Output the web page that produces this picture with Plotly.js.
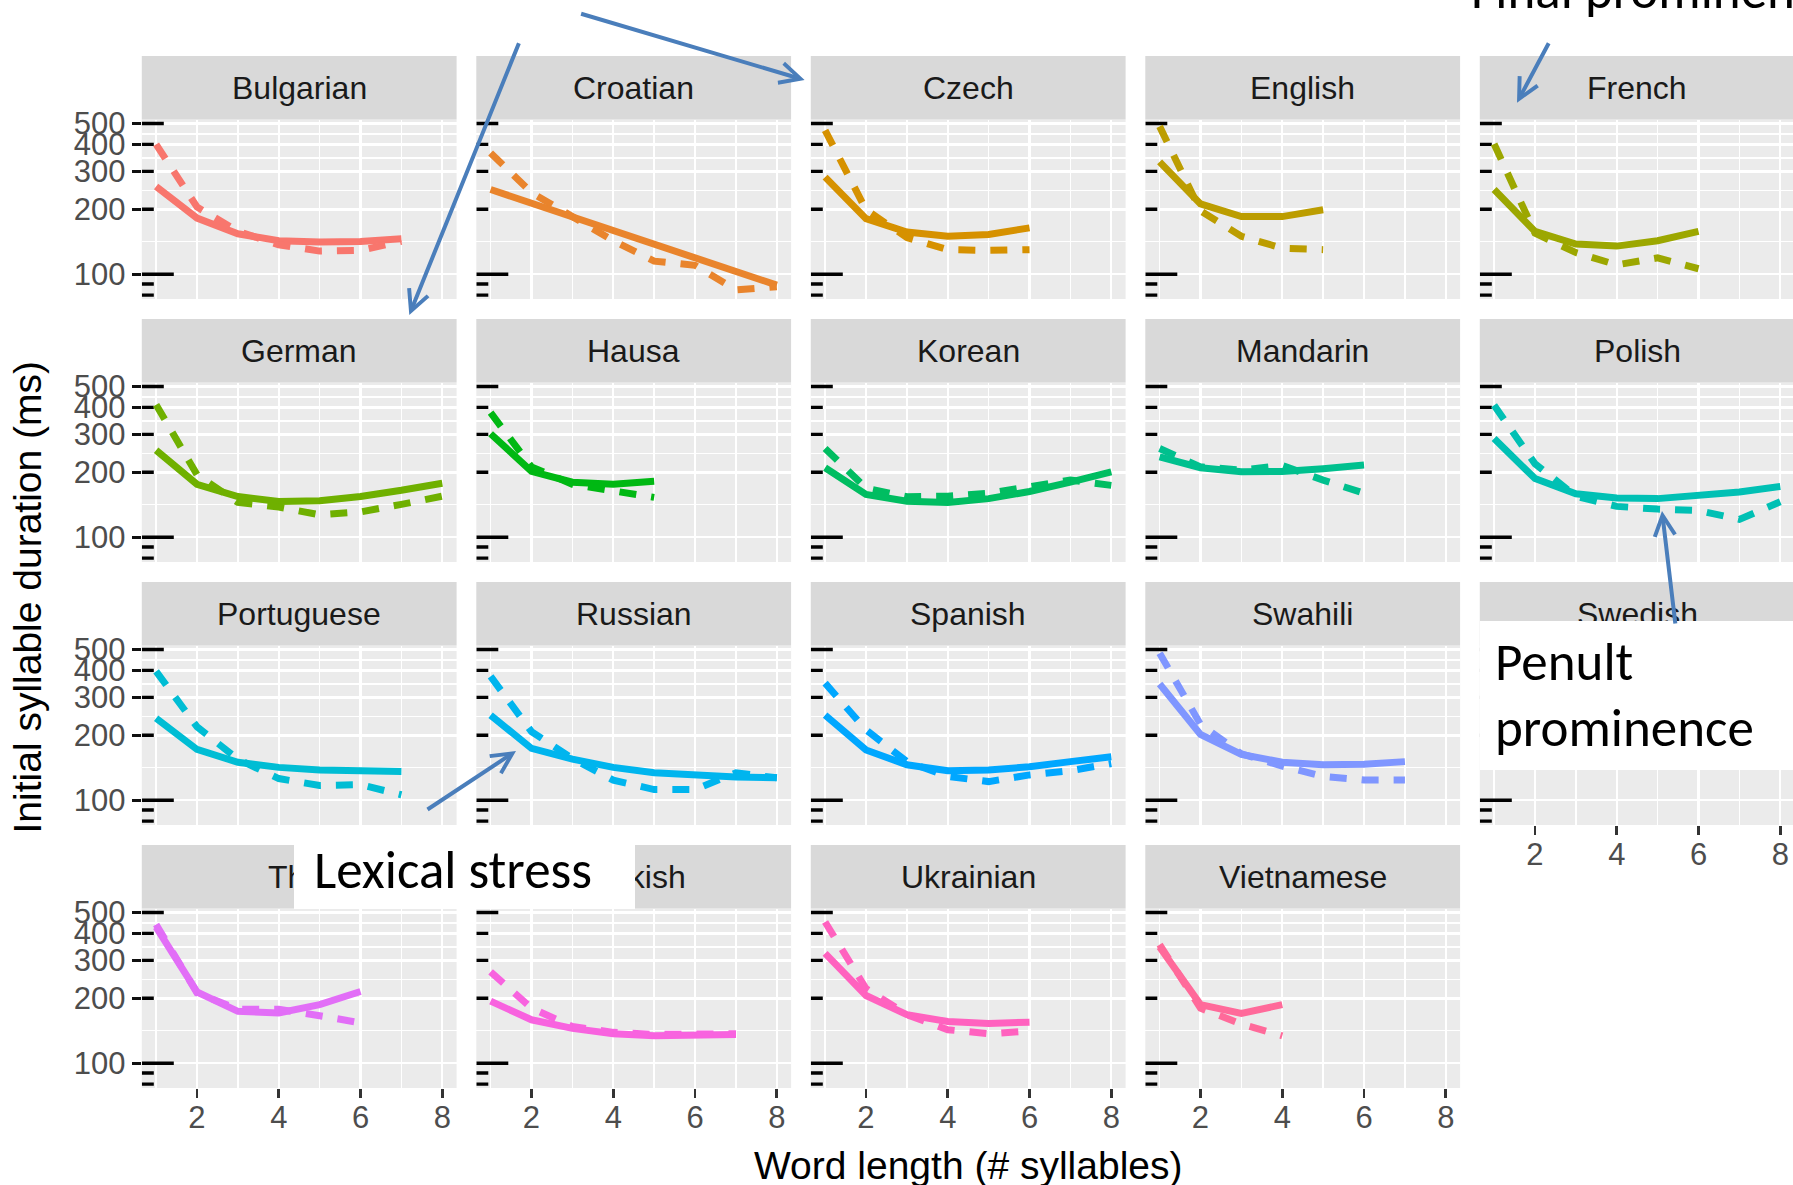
<!DOCTYPE html>
<html>
<head>
<meta charset="utf-8">
<script src="https://cdn.plot.ly/plotly-3.0.1.min.js"></script>
<style>
html,body{margin:0;padding:0;background:#ffffff;}
#chart{width:1793px;height:1185px;}
</style>
</head>
<body>
<div id="chart"></div>
<script>
// ---------------- data ----------------
const languages = ['Bulgarian','Croatian','Czech','English','French',
                   'German','Hausa','Korean','Mandarin','Polish',
                   'Portuguese','Russian','Spanish','Swahili','Swedish',
                   'Thai','Turkish','Ukrainian','Vietnamese'];
const wordLength = [1,2,3,4,5,6,7,8];

const bulgarianSolid   = [255,182,154,143,141,142,146];
const bulgarianDashed  = [400,205,158,137,128,129,142];
const croatianSolid    = [247,214,185,160,138,119,103,89];
const croatianDashed   = [365,239,185,143,115,110,84.5,87.5];
const czechSolid       = [282,181,157,150,153,164];
const czechDashed      = [465,199,148,130,129,130];
const englishSolid     = [332,212,185,185,199];
const englishDashed    = [485,197,150,132,130];
const frenchSolid      = [247,158,138,135,143,158];
const frenchDashed     = [402,155,126,110.5,119,106];
const germanSolid      = [253,176,154.5,146.5,147.5,154.5,165,178];
const germanDashed     = [412,195,145,138,127,131,142,155];
const hausaSolid       = [302,202,180,176,182];
const hausaDashed      = [378,212,176,163,153];
const koreanSolid      = [210,158,147,145,151,163,180,201];
const koreanDashed     = [258,169,154,155,160,170,184,174];
const mandarinSolid    = [236,210,201,202,208,216];
const mandarinDashed   = [258,212,205,215,184,160];
const polishSolid      = [287,187,159,152,151,155,162,172];
const polishDashed     = [409,219,155,139,135,133,121,146];
const portugueseSolid  = [240,172,150,142,138,136,136];
const portugueseDashed = [396,219,155,126,117,118,106];
const russianSolid     = [248,174,155,142,134,130,128,127];
const russianDashed    = [375,208,156,124,112,112,134,127];
const spanishSolid     = [248,171,146,137,138,143,151,159];
const spanishDashed    = [349,212,151,129,122,131,137,148];
const swahiliSolid     = [346,202,163,150,146,147,151];
const swahiliDashed    = [481,225,164,144,129,124,124];
const swedishSolid     = [];
const swedishDashed    = [];
const thaiSolid        = [428,214,174,171,187,215];
const thaiDashed       = [440,212,178,178,166,154];
const turkishSolid     = [194,159,145,137,134,134,136];
const turkishDashed    = [265,180,148,139,136,136,137];
const ukrainianSolid   = [323,206,168,156,153,155];
const ukrainianDashed  = [452,222,168,143,137,141];
const vietnameseSolid  = [346,187,170,187];
const vietnameseDashed = [355,180,152,134];

const yTickVals = [100,200,300,400,500];
const yTickText = ['100','200','300','400','500'];
const xTickVals = [2,4,6,8];
const xTickText = ['2','4','6','8'];
const xMinorVals = [1,3,5,7];
const logTickVals = [80,90,100,200,300,400,500];

const xTitle = 'Word length (# syllables)';
const yTitle = 'Initial syllable duration (ms)';
const noteLexical = 'Lexical stress';
const notePenult1 = 'Penult';
const notePenult2 = 'prominence';
const noteFinal = 'Final prominence';

// lookup built from the named arrays
const solidSeries = [bulgarianSolid,croatianSolid,czechSolid,englishSolid,frenchSolid,
  germanSolid,hausaSolid,koreanSolid,mandarinSolid,polishSolid,
  portugueseSolid,russianSolid,spanishSolid,swahiliSolid,swedishSolid,
  thaiSolid,turkishSolid,ukrainianSolid,vietnameseSolid];
const dashedSeries = [bulgarianDashed,croatianDashed,czechDashed,englishDashed,frenchDashed,
  germanDashed,hausaDashed,koreanDashed,mandarinDashed,polishDashed,
  portugueseDashed,russianDashed,spanishDashed,swahiliDashed,swedishDashed,
  thaiDashed,turkishDashed,ukrainianDashed,vietnameseDashed];

// ---------------- styling / geometry ----------------
const W = 1793, H = 1185;
const colLeft0 = 141.8, colStep = 334.5, panelW = 314.8;
const rowTop0 = 56, rowStep = 263, stripH = 63.5, panelH = 179.5;
const xLo = 0.65, xHi = 8.35;
const yLo = 1.885, yHi = 2.7176;
const FONT = 'Liberation Sans, Arial, Helvetica, sans-serif';
const NOTEFONT = 'Carlito, Lato, Open Sans, sans-serif';
const BLUE = '#4A7EBB';

function hclHex(h, c, l) {
  const rad = h * Math.PI / 180;
  const U = c * Math.cos(rad), V = c * Math.sin(rad);
  const Xn = 95.047, Yn = 100, Zn = 108.883;
  const Y = l > 7.999592 ? Yn * Math.pow((l + 16) / 116, 3) : Yn * l / 903.3;
  const den = Xn + 15 * Yn + 3 * Zn;
  const un = 4 * Xn / den, vn = 9 * Yn / den;
  const u = U / (13 * l) + un, v = V / (13 * l) + vn;
  const X = 9 * Y * u / (4 * v);
  const Z = -X / 3 - 5 * Y + 3 * Y / v;
  const x = X / 100, y = Y / 100, z = Z / 100;
  const lin = [3.240479 * x - 1.537150 * y - 0.498535 * z,
               -0.969256 * x + 1.875992 * y + 0.041556 * z,
               0.055648 * x - 0.204043 * y + 1.057311 * z];
  return '#' + lin.map(t => {
    let g = t <= 0.0031308 ? 12.92 * t : 1.055 * Math.pow(t, 1 / 2.4) - 0.055;
    g = Math.min(1, Math.max(0, g));
    return Math.round(g * 255).toString(16).padStart(2, '0');
  }).join('');
}
const nLang = languages.length;
const colors = languages.map((_, i) => hclHex(15 + i * 360 / nLang, 100, 65));

const px2x = p => p / W;
const px2y = p => 1 - p / H;

const traces = [];
const layout = {
  width: W, height: H,
  margin: {l: 0, r: 0, t: 0, b: 0, pad: 0},
  paper_bgcolor: '#ffffff',
  plot_bgcolor: '#EBEBEB',
  showlegend: false,
  hovermode: false,
  font: {family: FONT, color: '#1A1A1A'},
  shapes: [],
  annotations: []
};

const yMinor = [];
for (let k = 0; k < yTickVals.length - 1; k++) yMinor.push(Math.sqrt(yTickVals[k] * yTickVals[k + 1]));

const stripAnnotations = [];

languages.forEach((lang, i) => {
  const r = Math.floor(i / 5), c = i % 5;
  const n = i + 1;
  const xa = 'xaxis' + (n === 1 ? '' : n), ya = 'yaxis' + (n === 1 ? '' : n);
  const xr = 'x' + (n === 1 ? '' : n), yr = 'y' + (n === 1 ? '' : n);
  const left = colLeft0 + c * colStep;
  const rightPx = Math.min(left + panelW, W);
  const xMax = xLo + (rightPx - left) / panelW * (xHi - xLo);
  const stripTop = rowTop0 + r * rowStep;
  const pTop = stripTop + stripH;
  const pBot = pTop + panelH;
  const isBottom = (r === 3) || (r === 2 && c === 4);
  const isLeft = c === 0;

  layout[xa] = {
    domain: [px2x(left), px2x(rightPx)], anchor: yr,
    range: [xLo, xMax], fixedrange: true,
    tickmode: 'array', tickvals: xTickVals, ticktext: xTickText,
    showgrid: true, gridcolor: '#ffffff', gridwidth: 2.4,
    minor: {tickmode: 'array', tickvals: xMinorVals, showgrid: true, gridcolor: '#ffffff', gridwidth: 1.3, ticks: ''},
    zeroline: false, showline: false,
    ticks: isBottom ? 'outside' : '', ticklen: 9, tickwidth: 2.6, tickcolor: '#333333',
    showticklabels: isBottom, ticklabelstandoff: -7,
    tickfont: {family: FONT, size: 31, color: '#4D4D4D'}
  };
  layout[ya] = {
    type: 'log', domain: [px2y(pBot), px2y(pTop)], anchor: xr,
    range: [yLo, yHi], fixedrange: true,
    tickmode: 'array', tickvals: yTickVals, ticktext: yTickText,
    showgrid: true, gridcolor: '#ffffff', gridwidth: 2.4,
    minor: {tickmode: 'array', tickvals: yMinor, showgrid: true, gridcolor: '#ffffff', gridwidth: 1.3, ticks: ''},
    zeroline: false, showline: false,
    ticks: isLeft ? 'outside' : '', ticklen: 9, tickwidth: 3.4, tickcolor: '#111111',
    showticklabels: isLeft, ticklabelstandoff: 0,
    tickfont: {family: FONT, size: 31, color: '#4D4D4D'}
  };

  // strip background
  layout.shapes.push({
    type: 'rect', xref: 'paper', yref: 'paper', layer: 'below',
    x0: px2x(left), x1: px2x(rightPx), y0: px2y(pTop), y1: px2y(stripTop),
    fillcolor: '#D9D9D9', line: {width: 0}
  });
  stripAnnotations.push({
    xref: 'paper', yref: 'paper', x: px2x(left + panelW / 2), y: px2y(stripTop + stripH / 2),
    xanchor: 'center', yanchor: 'middle', showarrow: false, text: lang,
    font: {family: FONT, size: 32, color: '#1A1A1A'}
  });

  // log ticks (annotation_logticks style) along the left edge of each panel
  const unitPerPx = (xHi - xLo) / panelW;
  const lx = [], ly = [];
  logTickVals.forEach(v => {
    const lenPx = v === 100 ? 32 : (v === 500 ? 22 : 12);
    lx.push(xLo, xLo + lenPx * unitPerPx, null);
    ly.push(v, v, null);
  });
  traces.push({
    type: 'scatter', mode: 'lines', x: lx, y: ly, xaxis: xr, yaxis: yr,
    line: {color: '#000000', width: 3.4}, hoverinfo: 'skip', showlegend: false
  });

  const s = solidSeries[i], d = dashedSeries[i];
  traces.push({
    type: 'scatter', mode: 'lines', x: wordLength.slice(0, s.length), y: s,
    xaxis: xr, yaxis: yr, line: {color: colors[i], width: 7}, showlegend: false
  });
  traces.push({
    type: 'scatter', mode: 'lines', x: wordLength.slice(0, d.length), y: d,
    xaxis: xr, yaxis: yr, line: {color: colors[i], width: 7, dash: '17px,15px'}, showlegend: false
  });
});

// axis titles
const titleAnnotations = [
  {xref: 'paper', yref: 'paper', x: px2x(968), y: px2y(1165), xanchor: 'center', yanchor: 'middle',
   showarrow: false, text: xTitle, font: {family: FONT, size: 39, color: '#000000'}},
  {xref: 'paper', yref: 'paper', x: px2x(27), y: px2y(597.5), xanchor: 'center', yanchor: 'middle',
   textangle: -90, showarrow: false, text: yTitle, font: {family: FONT, size: 39, color: '#000000'}}
];

// white cover boxes of the overlaid callouts
const boxAnnotations = [
  {xref: 'paper', yref: 'paper', x: px2x(294), y: px2y(830), xanchor: 'left', yanchor: 'top',
   showarrow: false, text: ' ', bgcolor: '#ffffff', width: 341, height: 78.5, borderpad: 0, borderwidth: 0},
  {xref: 'paper', yref: 'paper', x: px2x(1480), y: px2y(621), xanchor: 'left', yanchor: 'top',
   showarrow: false, text: ' ', bgcolor: '#ffffff', width: 313, height: 149, borderpad: 0, borderwidth: 0}
];

const noteFont = {family: NOTEFONT, size: 53, color: '#000000'};
const noteAnnotations = [
  {xref: 'paper', yref: 'paper', x: px2x(312), y: px2y(870), xanchor: 'left', yanchor: 'middle',
   showarrow: false, text: noteLexical, font: noteFont},
  {xref: 'paper', yref: 'paper', x: px2x(1493), y: px2y(662), xanchor: 'left', yanchor: 'middle',
   showarrow: false, text: notePenult1, font: noteFont},
  {xref: 'paper', yref: 'paper', x: px2x(1493), y: px2y(727.5), xanchor: 'left', yanchor: 'middle',
   showarrow: false, text: notePenult2, font: noteFont},
  {xref: 'paper', yref: 'paper', x: px2x(1469), y: px2y(-10), xanchor: 'left', yanchor: 'middle',
   showarrow: false, text: noteFinal, font: noteFont}
];

// callout arrows: [tailX, tailY, headX, headY] in pixels
const arrowPaths = [
  [519.5, 41.7, 409.3, 315],
  [579.6, 13.3, 804.6, 80],
  [1549.5, 41.7, 1517, 102.7],
  [1675.5, 625, 1662, 511],
  [426, 810.5, 516, 751]
];
const arrowAnnotations = arrowPaths.map(a => ({
  xref: 'paper', yref: 'paper', x: px2x(a[2]), y: px2y(a[3]),
  axref: 'pixel', ayref: 'pixel', ax: a[0] - a[2], ay: a[1] - a[3],
  text: '', showarrow: true, arrowhead: 5, arrowsize: 1.0, arrowwidth: 4,
  arrowcolor: BLUE, standoff: 0
}));

layout.annotations = [].concat(stripAnnotations, titleAnnotations, boxAnnotations, noteAnnotations, arrowAnnotations);

Plotly.newPlot('chart', traces, layout, {staticPlot: true, displayModeBar: false});
</script>
</body>
</html>
